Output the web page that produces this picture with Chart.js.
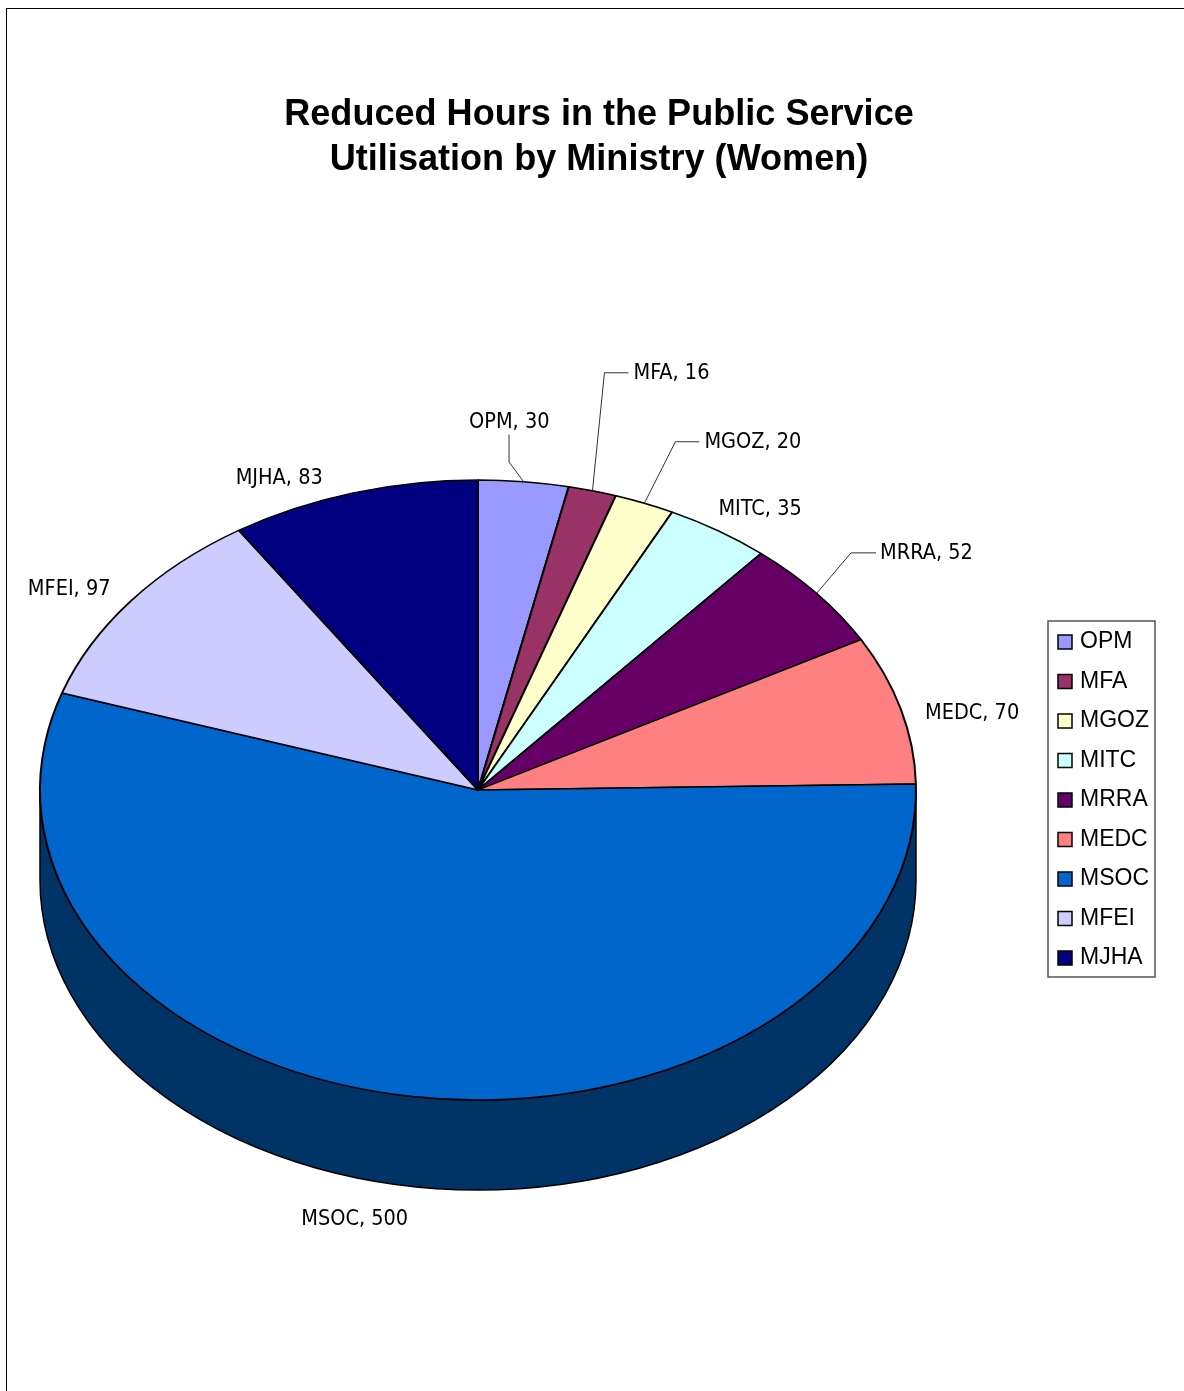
<!DOCTYPE html>
<html>
<head>
<meta charset="utf-8">
<style>
html,body{margin:0;padding:0;background:#fff;overflow:hidden;width:1184px;height:1391px}
#frame{position:absolute;left:6px;top:8px;width:1200px;height:1400px;border-left:1px solid #000;border-top:1px solid #000}
canvas{display:block}
</style>
<script src="https://cdn.jsdelivr.net/npm/chart.js@4"></script>
</head>
<body>
<div id="frame"><canvas id="c" width="1184" height="1391"></canvas></div>
<script>
const titleLines = ['Reduced Hours in the Public Service', 'Utilisation by Ministry (Women)'];
const categories = ['OPM', 'MFA', 'MGOZ', 'MITC', 'MRRA', 'MEDC', 'MSOC', 'MFEI', 'MJHA'];
const values = [30, 16, 20, 35, 52, 70, 500, 97, 83];
const sliceColors = ['#9999FF', '#993366', '#FFFFCC', '#CCFFFF', '#660066', '#FF8080', '#0066CC', '#CCCCFF', '#000080'];
const sideColors = ['#4D4D80', '#4D1A33', '#808066', '#668080', '#330033', '#804040', '#003366', '#666680', '#000040'];
// label offset (left edge, vertical middle) from the slice's rim point
const labelOffsets = [[-54.6,-59.2],[41,-117.1],[60,-60.5],[0,-21.5],[63.4,-39.5],[24,4],[-111.5,122.5],[-103,-11.5],[-117.6,-14.2]];
// leader line vertices, as offsets from the slice's rim point
const leaders = [[[-14.6,-19.7],[-14.6,-47]],[[12,-118],[36,-118]],[[31,-61.5],[55,-61.5]],null,[[34.4,-40.5],[59.4,-40.5]],null,null,null,null];

const RX = 438, RY = 310, DEPTH = 90;

const pie3d = {
  id: 'pie3d',
  afterLayout(chart) {
    chart.titleBlock.left = 0;
    chart.titleBlock.right = chart.width;
  },
  beforeDatasetsDraw(chart) {
    const ctx = chart.ctx;
    const arcs = chart.getDatasetMeta(0).data;
    arcs.forEach((arc, i) => {
      const a0 = Math.max(arc.startAngle, 0), a1 = Math.min(arc.endAngle, Math.PI);
      if (a1 <= a0) return;
      ctx.beginPath();
      ctx.ellipse(arc.x, arc.y, RX, RY, 0, a0, a1);
      ctx.ellipse(arc.x, arc.y + DEPTH, RX, RY, 0, a1, a0, true);
      ctx.closePath();
      ctx.fillStyle = sideColors[i];
      ctx.fill();
      ctx.strokeStyle = '#000';
      ctx.lineWidth = 1.5;
      ctx.stroke();
    });
    const a = arcs[0];
    ctx.save();
    ctx.translate(a.x, a.y);
    ctx.scale(1, RY / RX);
    ctx.translate(-a.x, -a.y);
  },
  afterDatasetsDraw(chart) {
    const ctx = chart.ctx;
    ctx.restore();
    const arcs = chart.getDatasetMeta(0).data;
    // data labels and leader lines
    ctx.save();
    ctx.font = '21.5px "DejaVu Sans Condensed","DejaVu Sans",sans-serif';
    ctx.textBaseline = 'middle';
    ctx.textAlign = 'left';
    arcs.forEach((arc, i) => {
      const mid = (arc.startAngle + arc.endAngle) / 2;
      const rimX = arc.x + RX * Math.cos(mid), rimY = arc.y + RY * Math.sin(mid);
      if (leaders[i]) {
        ctx.beginPath();
        ctx.moveTo(rimX, rimY);
        leaders[i].forEach(p => ctx.lineTo(rimX + p[0], rimY + p[1]));
        ctx.strokeStyle = '#333';
        ctx.lineWidth = 1;
        ctx.stroke();
      }
      ctx.fillStyle = '#000';
      ctx.fillText(categories[i] + ', ' + values[i], rimX + labelOffsets[i][0], rimY + labelOffsets[i][1]);
    });
    // legend
    const lx = 1041, ly = 612, lw = 107, lh = 356, pitch = 39.5;
    ctx.strokeStyle = '#555';
    ctx.lineWidth = 1.5;
    ctx.strokeRect(lx, ly, lw, lh);
    ctx.font = '23px "Liberation Sans",Arial,sans-serif';
    categories.forEach((name, i) => {
      const cy = ly + 21 + i * pitch;
      ctx.fillStyle = sliceColors[i];
      ctx.strokeStyle = '#000';
      ctx.lineWidth = 1.5;
      ctx.fillRect(lx + 10, cy - 7, 14, 14);
      ctx.strokeRect(lx + 10, cy - 7, 14, 14);
      ctx.fillStyle = '#000';
      ctx.fillText(name, lx + 32, cy);
    });
    ctx.restore();
  }
};

new Chart(document.getElementById('c'), {
  type: 'pie',
  data: {
    labels: categories,
    datasets: [{
      data: values,
      backgroundColor: sliceColors,
      borderColor: '#000',
      borderWidth: 2,
      clip: false
    }]
  },
  options: {
    responsive: false,
    animation: false,
    events: [],
    radius: RX,
    layout: { padding: { left: 33, right: 275, top: 0, bottom: 2.5 } },
    plugins: {
      legend: { display: false },
      tooltip: { enabled: false },
      title: {
        display: true,
        text: titleLines,
        color: '#000',
        font: { family: '"Liberation Sans",Arial,sans-serif', size: 36.1, weight: 'bold', lineHeight: 1.2465 },
        padding: { top: 83.5, bottom: 0 }
      }
    }
  },
  plugins: [pie3d]
});
</script>
</body>
</html>
